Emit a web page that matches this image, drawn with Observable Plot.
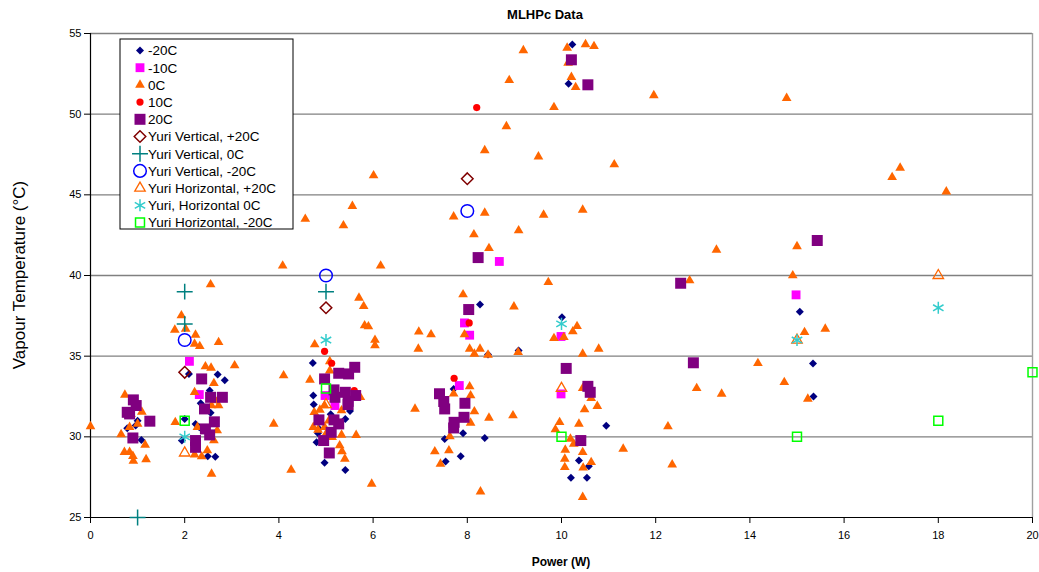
<!DOCTYPE html>
<html>
<head>
<meta charset="utf-8">
<script src="https://cdn.jsdelivr.net/npm/d3@7"></script>
<script src="https://cdn.jsdelivr.net/npm/@observablehq/plot@0.6"></script>
<style>
  html, body { margin: 0; padding: 0; background: #fff; }
  #chart { width: 1039px; height: 572px; }
</style>
</head>
<body>
<div id="chart"></div>
<script>
// ---------------- DATA ----------------
const chartTitle = "MLHPc Data";
const xLabel = "Power (W)";
const yLabel = "Vapour Temperature (°C)";
const xTicks = [0, 2, 4, 6, 8, 10, 12, 14, 16, 18, 20];
const yTicks = [25, 30, 35, 40, 45, 50, 55];

const seriesNames = ["-20C", "-10C", "0C", "10C", "20C",
  "Yuri Vertical, +20C", "Yuri Vertical, 0C", "Yuri Vertical, -20C",
  "Yuri Horizontal, +20C", "Yuri, Horizontal 0C", "Yuri Horizontal, -20C"];

// [Power (W), Vapour Temperature (°C)]
const dataM20 = [
  [0.78,30.53],[0.96,30.7],[1.08,29.8],[1.0,31.0],
  [2.09,33.9],[2.70,33.86],[2.85,33.5],[2.53,32.87],[2.34,32.08],[2.55,31.5],[2.70,32.25],[2.0,31.1],
  [2.23,30.8],[1.94,29.77],[2.49,28.8],[2.65,28.76],[2.31,30.6],
  [4.72,34.58],[5.41,32.8],[5.51,31.6],[5.41,31.1],[5.10,31.4],[4.83,30.22],[4.80,29.66],[4.97,28.4],
  [5.41,27.95],[4.73,32.56],[4.85,30.5],[4.74,32.0],
  [7.71,32.97],[7.91,30.22],[7.52,29.87],[8.37,29.93],[7.86,28.8],[7.54,28.47],[8.44,35.1],[8.27,38.2],[9.09,35.35],
  [10.95,30.68],[10.37,28.53],[10.58,28.17],[10.20,27.47],[10.54,27.47],[10.01,37.41],[10.23,54.32],[10.15,51.88],
  [15.06,37.76],[15.34,34.54],[15.35,32.5]
];
const dataM10 = [
  [2.10,34.68],[2.31,32.62],[4.98,32.56],[5.19,31.94],[7.83,33.18],[7.94,37.06],[8.05,36.3],[8.68,40.87],
  [9.99,36.22],[9.99,32.66],[14.98,38.8]
];
const data0 = [
  [0.0,30.65],[0.73,32.6],[0.65,30.15],[0.86,31.4],[1.09,31.55],[1.0,30.8],[0.83,30.6],[1.16,29.5],[0.72,29.05],
  [0.83,29.05],[0.90,28.8],[0.91,28.5],[1.18,28.6],
  [2.55,39.44],[1.93,37.52],[1.79,36.63],[2.02,36.69],[2.23,36.32],[2.21,35.76],[2.32,35.61],[2.72,35.86],
  [3.06,34.42],[2.44,34.36],[2.56,34.27],[2.62,33.32],[2.21,32.76],[2.65,32.25],[2.57,31.94],[2.72,31.94],
  [1.80,30.9],[2.27,30.6],[2.69,30.39],[2.62,29.77],[2.48,29.15],[2.36,28.78],[2.21,28.9],[2.57,27.7],[3.89,30.8],
  [4.08,40.6],[4.56,43.5],[5.37,43.1],[5.56,44.3],[6.01,46.2],[6.16,40.6],
  [5.70,38.61],[5.80,38.09],[5.82,36.9],[5.90,36.84],[6.04,36.0],[6.04,35.66],[4.76,35.72],[4.10,33.8],
  [4.26,27.95],[5.97,27.08],[5.64,30.1],[5.08,34.68],[5.08,34.1],[4.66,33.53],[5.73,32.45],[4.75,31.52],
  [4.87,31.67],[4.97,31.94],[5.33,31.63],[4.73,30.6],[4.83,30.43],[4.97,30.6],[5.02,30.28],[5.13,29.97],
  [5.33,30.12],[5.29,29.46],[5.34,29.1],[5.40,28.63],[5.06,31.0],
  [7.71,43.65],[8.37,43.88],[9.62,43.76],[8.14,42.54],[9.09,42.79],[8.46,41.69],[9.72,39.58],[7.91,38.82],
  [8.99,38.07],[6.97,36.51],[7.23,36.34],[7.94,36.34],[6.96,35.45],[8.05,35.45],[8.15,35.14],[8.27,35.45],
  [8.44,35.08],[9.08,35.24],[8.05,33.12],[8.07,32.56],[7.71,32.67],[6.89,31.73],[8.15,31.57],[8.07,30.86],
  [8.46,31.17],[8.97,31.32],[7.63,30.02],[7.31,29.09],[7.61,29.15],[7.43,28.32],[8.28,26.6],
  [8.37,47.75],[8.83,49.24],[8.89,52.1],[9.19,53.95],[9.51,47.37],[9.84,50.43],[10.12,54.11],[10.51,54.32],
  [10.69,54.21],[10.14,53.18],[10.21,52.29],[10.30,51.67],[11.12,46.88],[10.45,44.07],
  [10.33,36.85],[10.24,36.53],[9.84,36.11],[10.05,36.17],[10.45,35.14],[10.79,35.45],[10.45,33.01],[10.63,32.39],
  [10.76,31.9],[10.49,31.69],[9.96,30.9],[9.87,30.45],[10.37,30.8],[10.19,29.87],[10.26,29.56],[10.45,29.04],
  [10.08,29.19],[11.31,29.25],[10.07,28.63],[10.63,28.42],[10.07,28.11],[10.46,28.08],[10.45,26.26],
  [11.96,51.16],[14.78,50.99],[17.19,46.67],[17.02,46.09],[18.17,45.2],[13.29,41.59],[15.0,41.8],[12.72,39.69],
  [14.91,40.0],[15.16,36.48],[15.6,36.69],[14.17,34.56],[14.73,33.38],[12.87,33.01],[13.4,32.66],[15.23,32.35],
  [12.26,30.64],[12.35,28.28]
];
const data10 = [
  [4.97,35.3],[5.12,34.56],[5.60,32.87],[7.72,33.63],[8.04,37.06],[8.20,50.41]
];
const data20 = [
  [0.91,32.29],[0.97,31.94],[0.78,31.52],[0.83,31.42],[1.26,30.97],[0.90,29.93],
  [2.36,33.59],[2.55,32.45],[2.80,32.45],[2.42,31.73],[2.63,30.93],[2.44,30.49],[2.53,30.12],[2.23,29.77],[2.23,29.35],
  [5.61,34.31],[5.27,33.94],[5.48,33.9],[4.97,33.59],[5.17,32.91],[5.63,32.56],[5.47,32.2],[5.19,32.45],
  [4.85,31.05],[5.17,31.05],[5.27,30.8],[5.11,30.28],[4.95,29.77],[5.07,29.0],[5.41,32.76],[5.47,32.0],
  [7.41,32.67],[7.50,32.19],[7.52,31.73],[7.95,32.08],[7.93,31.21],[7.72,30.9],[7.71,30.55],[8.23,41.11],[8.03,37.89],
  [10.56,33.13],[10.61,32.76],[10.41,29.77],[10.10,34.24],[10.21,53.37],[10.56,51.82],
  [15.43,42.17],[12.53,39.52],[12.8,34.59]
];
const dataYuriVertP20 = [[2,34],[5,38],[8,46]];
const dataYuriVert0 = [[1,25],[2,39],[2,37],[5,39]];
const dataYuriVertM20 = [[2,36],[5,40],[8,44]];
const dataYuriHorP20 = [[2,29],[5,32],[10,33],[15,36],[18,40]];
const dataYuriHor0 = [[2,30],[5,36],[10,37],[15,36],[18,38]];
const dataYuriHorM20 = [[2,31],[5,33],[10,30],[15,30],[18,31],[20,34]];

const seriesData = [dataM20, dataM10, data0, data10, data20,
  dataYuriVertP20, dataYuriVert0, dataYuriVertM20, dataYuriHorP20, dataYuriHor0, dataYuriHorM20];

// ---------------- STYLES ----------------
const styles = [
  {symbol: "diamond2", fill: "#000080", stroke: "none", r: 3.6, sw: 0},
  {symbol: "square", fill: "#FF00FF", stroke: "none", r: 5.0, sw: 0},
  {symbol: "triangle", fill: "#FF6600", stroke: "none", r: 3.6, sw: 0},
  {symbol: "circle", fill: "#FF0000", stroke: "none", r: 3.6, sw: 0},
  {symbol: "square", fill: "#800080", stroke: "none", r: 6.2, sw: 0},
  {symbol: "diamond2", fill: "none", stroke: "#800000", r: 5.2, sw: 1.5},
  {symbol: "plus", fill: "none", stroke: "#008080", r: 5.2, sw: 1.5},
  {symbol: "circle", fill: "none", stroke: "#0000FF", r: 6.3, sw: 1.5},
  {symbol: "triangle2", fill: "none", stroke: "#FF6600", r: 5.0, sw: 1.3},
  {symbol: "asterisk", fill: "none", stroke: "#33CCCC", r: 5.7, sw: 1.5},
  {symbol: "square2", fill: "none", stroke: "#00FF00", r: 5.7, sw: 1.5}
];
const d3Symbols = {
  diamond2: d3.symbolDiamond2, square: d3.symbolSquare, triangle: d3.symbolTriangle,
  circle: d3.symbolCircle, plus: d3.symbolPlus, triangle2: d3.symbolTriangle2,
  asterisk: d3.symbolAsterisk, square2: d3.symbolSquare2
};

const FONT = "Arial, 'Liberation Sans', Helvetica, sans-serif";
const W = 1039, H = 572;
const mL = 90, mR = 7, mT = 33, mB = 55;

const dotMarks = seriesData.map((data, i) => {
  const s = styles[i];
  return Plot.dot(data, {
    x: d => d[0], y: d => d[1],
    symbol: s.symbol, r: s.r,
    fill: s.fill, stroke: s.stroke, strokeWidth: s.sw
  });
});

const chart = Plot.plot({
  width: W, height: H,
  marginLeft: mL, marginRight: mR, marginTop: mT, marginBottom: mB,
  style: {fontFamily: FONT, fontSize: "11px", background: "#fff", color: "#000", overflow: "visible"},
  x: {domain: [0, 20], ticks: xTicks, tickSize: 6, tickPadding: 8, label: null, tickFormat: d => String(d)},
  y: {domain: [25, 55], ticks: yTicks, tickSize: 6, tickPadding: 3, label: null, tickFormat: d => String(d)},
  marks: [
    Plot.ruleY(yTicks.filter(t => t > 25), {stroke: "#808080", strokeWidth: 1.4}),
    Plot.ruleX([20], {stroke: "#a0a0a0", strokeWidth: 1.4}),
    Plot.ruleX([0], {stroke: "#000", strokeWidth: 1.2}),
    Plot.ruleY([25], {stroke: "#000", strokeWidth: 1.2}),
    ...dotMarks
  ]
});

document.getElementById("chart").appendChild(chart);

const svg = d3.select(chart);

// Title
svg.append("text")
  .attr("x", (mL + W - mR) / 2 - 16).attr("y", 19)
  .attr("text-anchor", "middle")
  .attr("font-family", FONT).attr("font-weight", "bold").attr("font-size", 13)
  .attr("fill", "#000")
  .text(chartTitle);

// X axis label
svg.append("text")
  .attr("x", (mL + W - mR) / 2).attr("y", 566)
  .attr("text-anchor", "middle")
  .attr("font-family", FONT).attr("font-weight", "bold").attr("font-size", 12)
  .attr("fill", "#000")
  .text(xLabel);

// Y axis label
svg.append("text")
  .attr("transform", `translate(25,${(mT + H - mB) / 2}) rotate(-90)`)
  .attr("text-anchor", "middle")
  .attr("font-family", FONT).attr("font-size", 17)
  .attr("fill", "#000")
  .text(yLabel);

// Legend
const lg = svg.append("g");
const lgX = 120, lgY = 39, lgW = 173, lgH = 190;
lg.append("rect").attr("x", lgX).attr("y", lgY).attr("width", lgW).attr("height", lgH)
  .attr("fill", "#fff").attr("stroke", "#000").attr("stroke-width", 1);
seriesNames.forEach((name, i) => {
  const s = styles[i];
  const cy = 50.5 + i * 17.2;
  const sym = d3.symbol(d3Symbols[s.symbol], Math.PI * s.r * s.r);
  lg.append("path")
    .attr("transform", `translate(140,${cy})`)
    .attr("d", sym())
    .attr("fill", s.fill).attr("stroke", s.stroke).attr("stroke-width", s.sw || null);
  lg.append("text")
    .attr("x", 148).attr("y", cy).attr("dy", "0.36em")
    .attr("text-anchor", "start")
    .attr("font-family", FONT).attr("font-size", 13.5).attr("fill", "#000")
    .text(name);
});
</script>
</body>
</html>
